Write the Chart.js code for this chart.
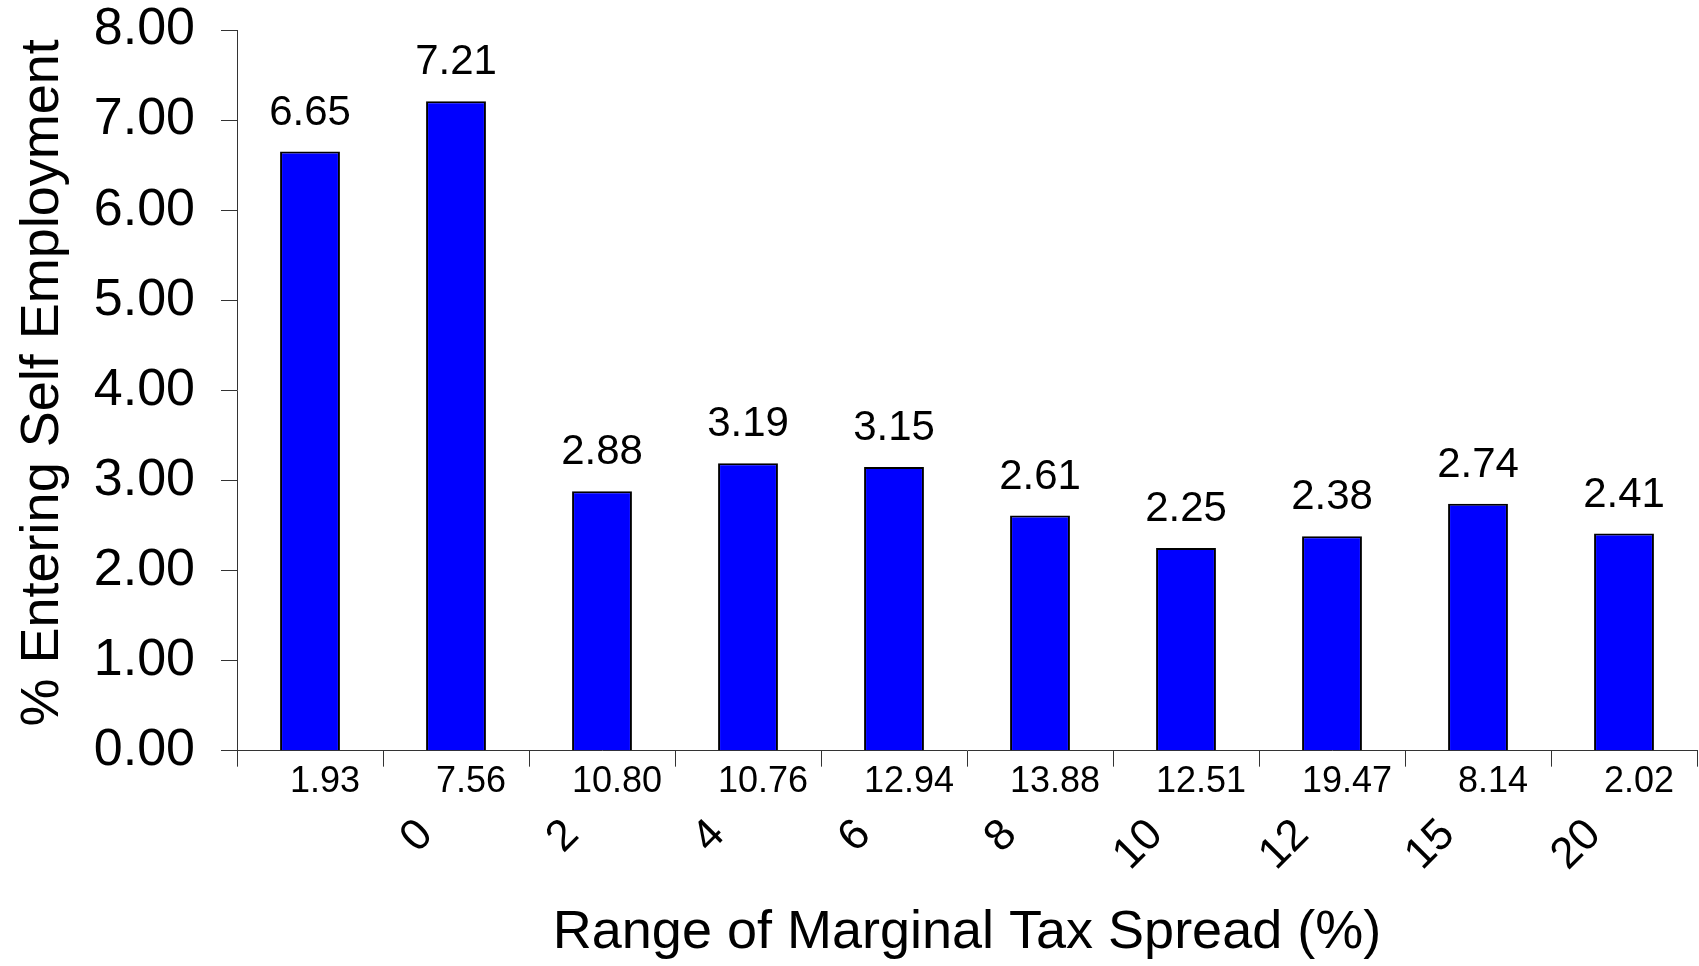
<!DOCTYPE html>
<html lang="en">
<head>
<meta charset="UTF-8">
<title>Self employment by marginal tax spread</title>
<script src="https://cdn.jsdelivr.net/npm/chart.js"></script>
<style>
  html, body { margin: 0; padding: 0; background: #fff; }
  .box { width: 1699px; height: 966px; }
</style>
</head>
<body>
<div class="box"><canvas id="grafico"></canvas></div>
<script>
// numbers printed under each bar
const sampleLabels = ['1.93', '7.56', '10.80', '10.76', '12.94', '13.88', '12.51', '19.47', '8.14', '2.02'];
// % entering self employment
const pctEntering = [6.65, 7.21, 2.88, 3.19, 3.15, 2.61, 2.25, 2.38, 2.74, 2.41];
// range boundaries written between the bars
const spreadBounds = ['', '0', '2', '4', '6', '8', '10', '12', '15', '20', ''];
const yTicks = [0, 1, 2, 3, 4, 5, 6, 7, 8];

const fam = '"Liberation Sans", Arial, sans-serif';
const lineCol = '#333333';

// value above every bar
const barValues = {
  id: 'barValues',
  afterDatasetsDraw(chart) {
    const ctx = chart.ctx;
    const meta = chart.getDatasetMeta(0);
    ctx.save();
    ctx.font = '42px ' + fam;
    ctx.fillStyle = '#000';
    ctx.textAlign = 'center';
    ctx.textBaseline = 'alphabetic';
    meta.data.forEach((bar, i) => {
      ctx.fillText(pctEntering[i].toFixed(2), bar.x, bar.y - 27);
    });
    ctx.restore();
  }
};

new Chart(document.getElementById('grafico'), {
  type: 'bar',
  data: {
    labels: sampleLabels,
    datasets: [{
      data: pctEntering,
      backgroundColor: '#0000ff',
      borderColor: '#000000',
      borderWidth: 2,
      barPercentage: 0.41,
      categoryPercentage: 1
    }]
  },
  options: {
    responsive: true,
    maintainAspectRatio: false,
    animation: false,
    layout: { padding: { top: 30, right: 2, left: 0, bottom: 0 } },
    plugins: { legend: { display: false }, tooltip: { enabled: false } },
    scales: {
      x: {
        weight: 0,
        offset: true,
        grid: { drawOnChartArea: false, tickLength: 16, color: lineCol, offset: true },
        border: { color: lineCol },
        ticks: {
          color: '#000', font: { family: fam, size: 36, lineHeight: 1 },
          padding: -3, maxRotation: 0, minRotation: 0, autoSkip: false, labelOffset: 15
        }
      },
      x2: {
        type: 'category',
        position: 'bottom',
        weight: 1,
        labels: spreadBounds,
        offset: false,
        grid: { display: false },
        border: { display: false },
        ticks: {
          color: '#000', font: { family: fam, size: 44 },
          minRotation: 45, maxRotation: 45, autoSkip: false, labelOffset: 43, padding: 4.5
        },
        title: {
          display: true, text: 'Range of Marginal Tax Spread (%)', color: '#000',
          font: { family: fam, size: 54 }, padding: { top: 15.6, bottom: 0 }
        },
        afterFit(scale) { scale.paddingLeft = 0; scale.paddingRight = 0; }
      },
      y: {
        min: 0,
        max: 8,
        afterBuildTicks(scale) { scale.ticks = yTicks.map(v => ({ value: v })); },
        afterFit(scale) { scale.width = 237; scale.paddingTop = 0; },
        grid: { drawOnChartArea: false, tickLength: 16, color: lineCol },
        border: { color: lineCol },
        ticks: {
          color: '#000', font: { family: fam, size: 52 }, padding: 26,
          callback: v => v.toFixed(2)
        },
        title: {
          display: true, text: ' % Entering Self Employment', color: '#000',
          font: { family: fam, size: 54 }, padding: { top: 11, bottom: 0 }
        }
      }
    }
  },
  plugins: [barValues]
});
</script>
</body>
</html>
